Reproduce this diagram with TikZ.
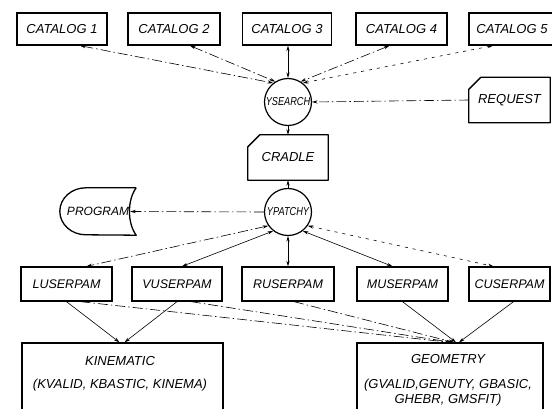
\documentclass[tikz,border=0pt]{standalone}
\usepackage{fontspec}
\usepackage{graphicx}
\setmainfont{Liberation Sans}
\usetikzlibrary{arrows.meta,calc}
\newcommand{\narrowtxt}[1]{\scalebox{0.8}[1]{#1}}
\begin{document}
\begin{tikzpicture}[x=1pt,y=-1pt,
  every node/.style={font=\itshape\fontsize{13}{15}\selectfont},
  box/.style={draw, line width=1.3pt, minimum height=32pt, inner sep=0pt},
  ubox/.style={draw, line width=1.3pt, minimum height=34pt, inner sep=0pt, font=\itshape\fontsize{12.5}{14}\selectfont},
  bigbox/.style={draw, line width=1.3pt, minimum height=69pt, inner sep=0pt},
  proc/.style={draw, circle, line width=1.2pt, minimum size=47pt, inner sep=0pt, font=\itshape\fontsize{11.5}{12}\selectfont},
  ghost/.style={inner sep=0pt},
  shp/.style={line width=1.3pt, line join=round},
  tip/.style={-{Stealth[length=5.5pt,width=3.2pt]}},
  tips/.style={{Stealth[length=5.5pt,width=3.2pt]}-{Stealth[length=5.5pt,width=3.2pt]}},
  con/.style={line width=0.6pt},
  dd/.style={dash pattern=on 10pt off 3pt on 1.5pt off 3pt},
  dt/.style={dash pattern=on 3pt off 5pt},
]
\useasboundingbox (0,0) rectangle (552,409);

% top row
\node[box, minimum width=90pt] (cat1) at (62,29) {CATALOG 1};
\node[box, minimum width=92pt] (cat2) at (174,29) {CATALOG 2};
\node[box, minimum width=89pt] (cat3) at (287,29) {CATALOG 3};
\node[box, minimum width=91pt] (cat4) at (401.5,29) {CATALOG 4};
\node[box, minimum width=86pt] (cat5) at (512,29) {CATALOG 5};

% middle
\node[proc] (ysearch) at (288,102) {\narrowtxt{YSEARCH}};
\node[ghost, minimum width=81pt, minimum height=45pt] (request) at (509.5,100) {REQUEST};
\draw[shp] (request.south west) -- ([yshift=-12pt]request.north west) -- ([xshift=12pt]request.north west) -- (request.north east) -- (request.south east) -- cycle;
\node[ghost, minimum width=80pt, minimum height=45pt] (cradle) at (288,157.5) {CRADLE};
\draw[shp] (cradle.south west) -- ([yshift=-12pt]cradle.north west) -- ([xshift=12pt]cradle.north west) -- (cradle.north east) -- (cradle.south east) -- cycle;
\node[proc] (ypatchy) at (288,212) {\narrowtxt{YPATCHY}};
\node[ghost, minimum width=76pt, minimum height=47pt, font=\itshape\fontsize{12}{14}\selectfont] (program) at (98,211.5) {PROGRAM};
\draw[shp] (program.north east) -- ([xshift=26pt]program.north west)
  arc[start angle=90, end angle=270, x radius=26pt, y radius=23.5pt]
  -- (program.south east)
  .. controls ([xshift=-9pt,yshift=12pt]program.south east) and ([xshift=-9pt,yshift=-12pt]program.north east) .. (program.north east);

% user boxes
\node[ubox, minimum width=91pt] (lus) at (66.5,284) {LUSERPAM};
\node[ubox, minimum width=90pt] (vus) at (177,284) {VUSERPAM};
\node[ubox, minimum width=92pt] (rus) at (288,284) {RUSERPAM};
\node[ubox, minimum width=91pt] (mus) at (402.5,284) {MUSERPAM};
\node[ubox, minimum width=81pt] (cus) at (509.5,284) {CUSERPAM};

% bottom boxes
\node[bigbox, minimum width=201pt] (kin) at (122.5,377.5) {};
\node[align=center, inner sep=0pt] (kint) at (120,374) {KINEMATIC\\[8pt](KVALID, KBASTIC, KINEMA)};
\node[bigbox, minimum width=186pt] (geo) at (450,377.5) {};
\node[align=center, inner sep=0pt] (geot) at (448,380) {GEOMETRY\\[10pt](GVALID,GENUTY, GBASIC,\\GHEBR, GMSFIT)};

% catalog connectors
\draw[con, tips, dd] ([xshift=18pt]cat1.south) -- (ysearch.128);
\draw[con, tips, dd] ([xshift=16pt]cat2.south) -- (ysearch.122);
\draw[con, tips] (cat3.south -| ysearch.north) -- (ysearch.north);
\draw[con, tips, dd] ([xshift=-12pt]cat4.south) -- (ysearch.58);
\draw[con, tips, dt] ([xshift=-19pt]cat5.south) -- (ysearch.52);
\draw[con, tip, dd] (request.west) -- (ysearch.east);

% main chain
\draw[con, tip] (ysearch.south) -- (cradle.north);
\draw[con, tip] (ypatchy.north) -- (cradle.south);
\draw[con, tip, dd] (ypatchy.west) -- ([xshift=-6pt]program.east);

% ypatchy to user boxes
\draw[con, tips, dd] (ypatchy.215) -- ([xshift=20pt]lus.north);
\draw[con, tips] (ypatchy.232) -- ([xshift=5pt]vus.north);
\draw[con, tips] (ypatchy.south) -- (rus.north);
\draw[con, tips] (ypatchy.308) -- ([xshift=-10pt]mus.north);
\draw[con, tips, dt] (ypatchy.325) -- ([xshift=-16pt]cus.north);

% user boxes to bottom
\draw[con, tip] (lus.south) -- ([xshift=-3pt]kin.north);
\draw[con, tip] (vus.south) -- ([xshift=2pt]kin.north);
\draw[con, tip, dd] ([xshift=14pt]lus.south) -- ([xshift=0pt]geo.north);
\draw[con, tip, dd] ([xshift=14pt]vus.south) -- ([xshift=2pt]geo.north);
\draw[con, tip, dd] ([xshift=6pt]rus.south) -- ([xshift=4pt]geo.north);
\draw[con, tip] (mus.south) -- ([xshift=6pt]geo.north);
\draw[con, tip] ([xshift=4pt]cus.south) -- ([xshift=9pt]geo.north);
\end{tikzpicture}
\end{document}
